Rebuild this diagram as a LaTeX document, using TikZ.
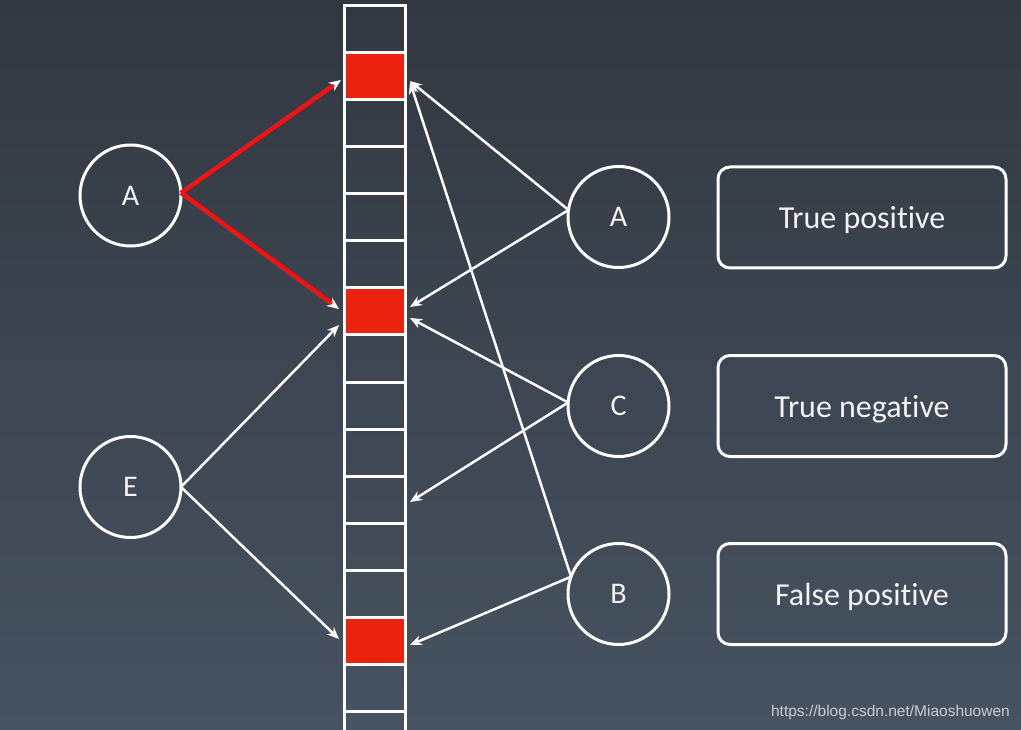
\documentclass[tikz,border=0pt]{standalone}
\usepackage{fontspec}
\setmainfont{Carlito}[Ligatures=NoCommon]
\newfontfamily\wmfont{Liberation Sans}
\usetikzlibrary{arrows.meta,calc}
\definecolor{bgtop}{RGB}{50,56,65}
\definecolor{bgbot}{RGB}{71,83,97}
\definecolor{cellred}{RGB}{236,34,16}
\definecolor{linered}{RGB}{242,18,18}
\definecolor{txt}{RGB}{242,242,242}
\definecolor{wmc}{RGB}{200,205,210}
\begin{document}
\begin{tikzpicture}[x=1pt,y=-1pt,
  cellbox/.style={draw=white,line width=3pt,minimum width=61pt,minimum height=47pt,inner sep=0pt,outer sep=0pt},
  circ/.style={circle,draw=white,line width=3pt,minimum size=101pt,inner sep=0pt,outer sep=0pt,text=txt,font=\fontsize{30}{30}\selectfont},
  resbox/.style={draw=white,line width=3pt,rounded corners=12pt,minimum width=288pt,minimum height=101pt,inner sep=0pt,outer sep=0pt,text=txt,text depth=0pt,font=\fontsize{32}{32}\selectfont},
  arr/.style={white,line width=2.5pt,-{Stealth[length=12pt,width=10pt]}},
  redarr/.style={linered,line width=4.5pt,-{Stealth[white,length=12pt,width=10pt]}},
]
\useasboundingbox (0,0) rectangle (1021,730);
\shade[top color=bgtop,bottom color=bgbot] (0,0) rectangle (1021,730);
\begin{scope}
\clip (0,0) rectangle (1021,730);
\foreach \k/\f in {0/none,1/cellred,2/none,3/none,4/none,5/none,6/cellred,7/none,8/none,9/none,10/none,11/none,12/none,13/cellred,14/none,15/none}
  \node[cellbox,fill=\f] (c\k) at (374.5,{29.5+47*\k}) {};
\end{scope}

\node[circ] (LA) at (130.5,195.5) {\raisebox{-1.5pt}{A}};
\node[circ] (LE) at (130.5,487) {\raisebox{-1.5pt}{E}};
\node[circ] (RA) at (618.5,217) {\raisebox{-1.5pt}{A}};
\node[circ] (RC) at (618.5,406) {\raisebox{-1.5pt}{C}};
\node[circ] (RB) at (618.5,594) {\raisebox{-1.5pt}{B}};

\node[resbox] (tp) at (862,217.5) {True positive};
\node[resbox] (tn) at (862,406) {True negative};
\node[resbox] (fp) at (862,594) {False positive};

\draw[redarr] (LA.3) -- ($(c1.west)+(-3,3.5)$);
\draw[redarr] (LA.3) -- ($(c6.west)+(-5,-2.5)$);
\draw[arr] (LE.east) -- ($(c6.west)+(-5,13.5)$);
\draw[arr] (LE.east) -- ($(c13.west)+(-5,-1.5)$);

\draw[arr] (RA.172) -- ($(c1.east)+(5,4.5)$);
\draw[arr] (RA.172) -- ($(c6.east)+(5,-4.5)$);
\draw[arr] (RC.176) -- ($(c6.east)+(5,6.5)$);
\draw[arr] (RC.176) -- ($(c10.east)+(5,2.5)$);
\draw[arr] (RB.160) -- ($(c1.east)+(5,5.5)$);
\draw[arr] (RB.160) -- ($(c13.east)+(5,4.5)$);

\node[anchor=base east,inner sep=0pt,text=wmc,font=\wmfont\fontsize{15.5}{15.5}\selectfont] (wm) at (1010,716) {https://blog.csdn.net/Miaoshuowen};
\end{tikzpicture}
\end{document}
